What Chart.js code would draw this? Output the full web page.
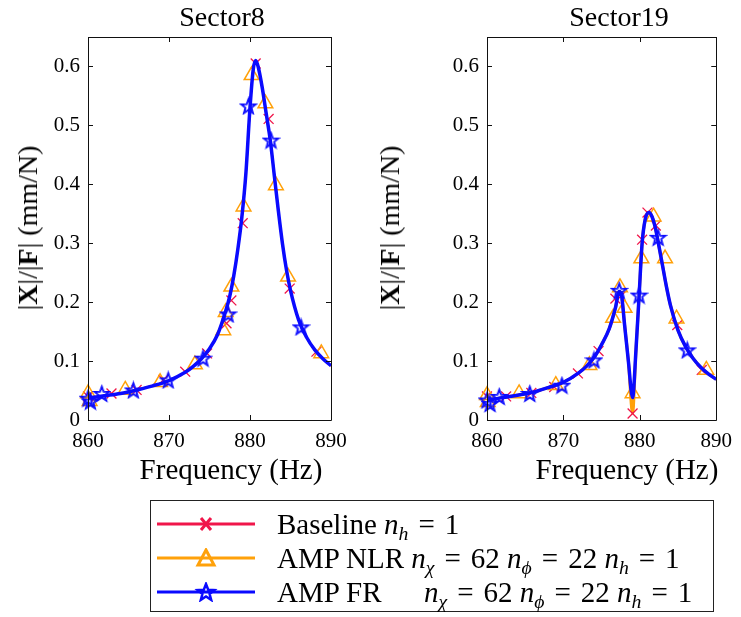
<!DOCTYPE html>
<html>
<head>
<meta charset="utf-8">
<script src="https://cdn.jsdelivr.net/npm/chart.js"></script>
<style>
  body { margin: 0; background: #fff; }
  #wrap { position: relative; width: 741px; height: 617px; background: #fff; font-family: 'Liberation Serif', 'Times New Roman', serif; color: #000; }
  canvas { position: absolute; top: 0; }
  .title, .xlabel, .ylabel { position: absolute; white-space: nowrap; line-height: 28px; }
  .title { top: 3px; font-size: 28px; transform: translateX(-50%); }
  .xlabel { top: 455px; font-size: 29px; transform: translateX(-50%); }
  .ylabel { top: 228px; font-size: 28px; transform: translate(-50%, -50%) rotate(-90deg); }
  #legend { position: absolute; left: 150px; top: 500px; width: 562px; height: 110px; border: 1px solid #222; font-size: 29px; }
  .row { position: absolute; left: 6px; width: 550px; height: 30px; line-height: 30px; white-space: nowrap; }
  .row svg { position: absolute; left: 0; top: 5px; }
  .row .txt { position: absolute; left: 120px; top: 0; }
  .row .par { position: absolute; left: 267px; top: 0; }
  .eq { margin: 0 10px; }
  sub { font-size: 0.68em; vertical-align: -0.3em; line-height: 0; }
  i { font-style: italic; }
</style>
</head>
<body>
<div id="wrap">
  <canvas id="sector8" width="370" height="480" style="left:0"></canvas>
  <canvas id="sector19" width="371" height="480" style="left:370px"></canvas>

  <div class="title" style="left:222px">Sector8</div>
  <div class="title" style="left:619px">Sector19</div>
  <div class="xlabel" style="left:231px">Frequency (Hz)</div>
  <div class="xlabel" style="left:627px">Frequency (Hz)</div>
  <div class="ylabel" style="left:28px">|<b>X</b>|/|<b>F</b>| (mm/N)</div>
  <div class="ylabel" style="left:390px">|<b>X</b>|/|<b>F</b>| (mm/N)</div>

  <div id="legend">
    <div class="row" style="top:8px">
      <svg width="100" height="20"><line x1="0" y1="10" x2="98" y2="10" stroke="#f0164a" stroke-width="3"/>
        <path d="M44 4 L54 16 M54 4 L44 16" stroke="#f0164a" stroke-width="3"/></svg>
      <span class="txt">Baseline <i>n</i><sub><i>h</i></sub><span class="eq">=</span>1</span>
    </div>
    <div class="row" style="top:42px">
      <svg width="100" height="20"><line x1="0" y1="10" x2="98" y2="10" stroke="#ffa10a" stroke-width="3"/>
        <path d="M49 2 L57 17 L41 17 Z" fill="none" stroke="#ffa10a" stroke-width="3"/></svg>
      <span class="txt">AMP NLR <i>n</i><sub><i>χ</i></sub><span class="eq">=</span>62 <i>n</i><sub><i>ϕ</i></sub><span class="eq">=</span>22 <i>n</i><sub><i>h</i></sub><span class="eq">=</span>1</span>
    </div>
    <div class="row" style="top:76px">
      <svg width="100" height="20"><line x1="0" y1="10" x2="98" y2="10" stroke="#0a0aff" stroke-width="3"/>
        <path d="M49 2 L51.2 7.8 L57.3 8.1 L52.6 12 L54.2 17.9 L49 14.5 L43.8 17.9 L45.4 12 L40.7 8.1 L46.8 7.8 Z" fill="none" stroke="#0a0aff" stroke-width="2.5"/></svg>
      <span class="txt">AMP FR</span>
      <span class="par"><i>n</i><sub><i>χ</i></sub><span class="eq">=</span>62 <i>n</i><sub><i>ϕ</i></sub><span class="eq">=</span>22 <i>n</i><sub><i>h</i></sub><span class="eq">=</span>1</span>
    </div>
  </div>
</div>

<script>
// Axis ticks
const freqTicks = [860, 870, 880, 890];
const ampTicks = [0, 0.1, 0.2, 0.3, 0.4, 0.5, 0.6];

// Sector8 - continuous response curve (all three methods overlap)
const s8LineFreq = [860, 862, 864, 866, 868, 870, 872, 873, 874, 875, 876, 877, 877.5, 878, 878.5, 879, 879.5, 880, 880.4, 880.7, 881, 881.5, 882, 882.5, 883, 883.5, 884, 884.5, 885, 886, 887, 888, 889, 890];
const s8LineAmp = [0.037, 0.041, 0.045, 0.051, 0.058, 0.067, 0.081, 0.091, 0.104, 0.121, 0.145, 0.185, 0.21, 0.245, 0.29, 0.345, 0.42, 0.53, 0.595, 0.61, 0.6, 0.565, 0.52, 0.475, 0.415, 0.355, 0.3, 0.255, 0.22, 0.17, 0.14, 0.119, 0.104, 0.092];

// Sector8 - markers
const s8BaseFreq = [860, 862.9, 866, 869.3, 872, 874.7, 877.1, 877.7, 879.1, 880.7, 882.3, 884.9, 888.2];
const s8BaseAmp = [0.04, 0.045, 0.051, 0.068, 0.082, 0.113, 0.164, 0.203, 0.334, 0.605, 0.511, 0.223, 0.116];
const s8NlrFreq = [860, 860.2, 864.6, 868.9, 873.2, 876.7, 877, 877.7, 879.2, 880.2, 881.9, 883.2, 884.7, 888.8];
const s8NlrAmp = [0.045, 0.032, 0.051, 0.064, 0.094, 0.152, 0.183, 0.226, 0.362, 0.585, 0.537, 0.398, 0.243, 0.113];
const s8FrFreq = [860, 860.3, 861.7, 865.6, 869.9, 874.2, 877.3, 879.8, 882.6, 886.3];
const s8FrAmp = [0.037, 0.032, 0.045, 0.051, 0.068, 0.105, 0.18, 0.533, 0.475, 0.158];

// Sector19 - continuous response curves
const s19LineFreq = [860, 862, 864, 866, 868, 870, 872, 873, 874, 875, 876, 876.8, 877.3, 877.6, 878, 878.5, 879.05, 879.5, 879.9, 880.3, 880.7, 881.2, 881.6, 882, 882.5, 883, 883.5, 884, 885, 886, 887, 888, 889, 890];
const s19FrLineAmp = [0.033, 0.038, 0.042, 0.047, 0.055, 0.064, 0.08, 0.091, 0.106, 0.128, 0.155, 0.19, 0.218, 0.212, 0.162, 0.1, 0.038, 0.12, 0.21, 0.3, 0.34, 0.352, 0.345, 0.328, 0.295, 0.26, 0.225, 0.195, 0.152, 0.124, 0.104, 0.089, 0.078, 0.069];
const s19DipLineAmp = [0.033, 0.038, 0.042, 0.047, 0.055, 0.064, 0.08, 0.091, 0.106, 0.128, 0.155, 0.19, 0.218, 0.212, 0.162, 0.1, 0.012, 0.12, 0.21, 0.3, 0.34, 0.352, 0.345, 0.328, 0.295, 0.26, 0.225, 0.195, 0.152, 0.124, 0.104, 0.089, 0.078, 0.069];

// Sector19 - markers
const s19BaseFreq = [860, 862.5, 865.8, 868.8, 871.9, 874.6, 876.8, 877.5, 879.05, 880.3, 881, 882.1, 884.9, 888.1];
const s19BaseAmp = [0.04, 0.04, 0.046, 0.056, 0.079, 0.117, 0.206, 0.21, 0.011, 0.306, 0.352, 0.33, 0.161, 0.085];
const s19NlrFreq = [860, 860.1, 864.2, 869, 873.4, 876.5, 877.4, 878, 879.05, 880.2, 881.8, 883.3, 884.8, 888.7];
const s19NlrAmp = [0.042, 0.03, 0.045, 0.059, 0.093, 0.173, 0.225, 0.19, 0.045, 0.274, 0.345, 0.274, 0.172, 0.085];
const s19FrFreq = [860, 860.4, 861.6, 865.6, 869.8, 874, 877.3, 879.9, 882.4, 886.2];
const s19FrAmp = [0.034, 0.028, 0.04, 0.045, 0.059, 0.102, 0.22, 0.212, 0.31, 0.119];

const RED = '#f0164a';
const ORANGE = '#ffa10a';
const BLUE = '#0a0aff';

function toPoints(xs, ys) {
  return xs.map((x, i) => ({ x: x, y: ys[i] }));
}

// Outlined five point star used as point style
function starImage(size, color) {
  const c = document.createElement('canvas');
  c.width = size;
  c.height = size;
  const g = c.getContext('2d');
  const cx = size / 2, cy = size / 2 + 0.8;
  [size * 0.46, size * 0.34].forEach(R => {
    g.beginPath();
    for (let i = 0; i < 10; i++) {
      const r = i % 2 === 0 ? R : R * 0.42;
      const a = -Math.PI / 2 + i * Math.PI / 5;
      g.lineTo(cx + r * Math.cos(a), cy + r * Math.sin(a));
    }
    g.closePath();
    g.strokeStyle = color;
    g.lineWidth = 1.1;
    g.stroke();
  });
  return c;
}

// Box around the plot area with inward tick marks on all sides
const boxTicks = {
  id: 'boxTicks',
  afterDraw(chart) {
    const ctx = chart.ctx;
    const a = chart.chartArea;
    const x = chart.scales.x, y = chart.scales.y;
    const len = 5;
    ctx.save();
    ctx.strokeStyle = '#111';
    ctx.lineWidth = 1;
    ctx.beginPath();
    ctx.rect(Math.round(a.left) + 0.5, Math.round(a.top) + 0.5, Math.round(a.width), Math.round(a.height));
    freqTicks.forEach(v => {
      const px = Math.round(x.getPixelForValue(v)) + 0.5;
      ctx.moveTo(px, a.bottom); ctx.lineTo(px, a.bottom - len);
      ctx.moveTo(px, a.top); ctx.lineTo(px, a.top + len);
    });
    ampTicks.forEach(v => {
      const py = Math.round(y.getPixelForValue(v)) + 0.5;
      ctx.moveTo(a.left, py); ctx.lineTo(a.left + len, py);
      ctx.moveTo(a.right, py); ctx.lineTo(a.right - len, py);
    });
    ctx.stroke();
    ctx.restore();
  }
};

const starStyle = starImage(19, BLUE);

function createSectorChart(elementId, lineFreq, lines, markers, yAxisWidth, rightPad) {
  const ctx = document.getElementById(elementId);
  const datasets = [];

  lines.forEach(l => {
    datasets.push({
      data: toPoints(lineFreq, l.amp),
      showLine: true,
      borderColor: l.color,
      borderWidth: l.width,
      pointRadius: 0,
      cubicInterpolationMode: 'monotone',
      order: l.order
    });
  });

  markers.forEach(m => {
    datasets.push({
      data: toPoints(m.freq, m.amp),
      showLine: false,
      pointStyle: m.style,
      pointRadius: m.radius,
      borderColor: m.color,
      borderWidth: m.width,
      backgroundColor: 'rgba(0,0,0,0)',
      clip: false,
      order: m.order
    });
  });

  ctx.chart = new Chart(ctx, {
    type: 'scatter',
    data: { datasets: datasets },
    options: {
      responsive: false,
      animation: false,
      layout: { padding: { top: 37, right: rightPad, bottom: 0, left: 0 } },
      plugins: {
        legend: { display: false },
        tooltip: { enabled: false }
      },
      scales: {
        x: {
          type: 'linear',
          min: 860,
          max: 890,
          grid: { display: false, drawTicks: false },
          border: { display: false },
          ticks: {
            stepSize: 10,
            padding: 9,
            color: '#000',
            font: { family: 'Liberation Serif', size: 21 },
            callback: v => String(v)
          },
          afterFit: scale => { scale.height = 60; }
        },
        y: {
          type: 'linear',
          min: 0,
          max: 0.65,
          grid: { display: false, drawTicks: false },
          border: { display: false },
          ticks: {
            stepSize: 0.1,
            includeBounds: false,
            padding: 8,
            color: '#000',
            font: { family: 'Liberation Serif', size: 21 },
            callback: v => (Math.abs(v) < 1e-9 ? '0' : v.toFixed(1))
          },
          afterFit: scale => { scale.width = yAxisWidth; }
        }
      }
    },
    plugins: [boxTicks]
  });
}

createSectorChart('sector8', s8LineFreq, [
  { amp: s8LineAmp, color: RED, width: 2, order: 6 },
  { amp: s8LineAmp, color: ORANGE, width: 2, order: 5 },
  { amp: s8LineAmp, color: BLUE, width: 3.5, order: 0 }
], [
  { freq: s8BaseFreq, amp: s8BaseAmp, style: 'crossRot', radius: 7, color: RED, width: 1.3, order: 3 },
  { freq: s8NlrFreq, amp: s8NlrAmp, style: 'triangle', radius: 8.5, color: ORANGE, width: 1.5, order: 2 },
  { freq: s8FrFreq, amp: s8FrAmp, style: starStyle, radius: 9, color: BLUE, width: 1, order: 1 }
], 88, 39);

createSectorChart('sector19', s19LineFreq, [
  { amp: s19DipLineAmp, color: RED, width: 2, order: 6 },
  { amp: s19DipLineAmp, color: ORANGE, width: 3, order: 5 },
  { amp: s19FrLineAmp, color: BLUE, width: 3.5, order: 0 }
], [
  { freq: s19BaseFreq, amp: s19BaseAmp, style: 'crossRot', radius: 7, color: RED, width: 1.3, order: 3 },
  { freq: s19NlrFreq, amp: s19NlrAmp, style: 'triangle', radius: 8.5, color: ORANGE, width: 1.5, order: 2 },
  { freq: s19FrFreq, amp: s19FrAmp, style: starStyle, radius: 9, color: BLUE, width: 1, order: 1 }
], 117, 16);
</script>
</body>
</html>
